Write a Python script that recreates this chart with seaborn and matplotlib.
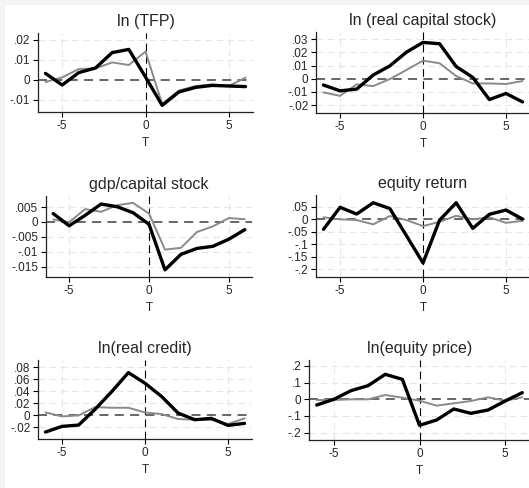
import matplotlib
matplotlib.use("Agg")
import matplotlib.pyplot as plt
import seaborn as sns
import numpy as np
import pandas as pd
from matplotlib.patches import Rectangle

sns.set_theme(style="white")
plt.rcParams['font.family'] = ['Liberation Sans', 'DejaVu Sans']

T = list(range(-6, 7))

titles = ["ln (TFP)", "ln (real capital stock)", "gdp/capital stock",
          "equity return", "ln(real credit)", "ln(equity price)"]

tfp_black = [0.0033, -0.0025, 0.0037, 0.0060, 0.0137, 0.0153, 0.0015, -0.0127, -0.0060, -0.0037, -0.0027, -0.0030, -0.0033]
tfp_gray = [-0.0010, 0.0013, 0.0055, 0.0058, 0.0088, 0.0075, 0.0142, -0.0120, -0.0053, -0.0030, -0.0022, -0.0030, 0.0012]

cap_black = [-0.0048, -0.0092, -0.0079, 0.0028, 0.0097, 0.0201, 0.0275, 0.0265, 0.0092, 0.0010, -0.0158, -0.0112, -0.0176]
cap_gray = [-0.0104, -0.0130, -0.0043, -0.0056, -0.0003, 0.0066, 0.0137, 0.0117, 0.0020, -0.0036, -0.0036, -0.0040, -0.0018]

gdpk_black = [0.0028, -0.0013, 0.0022, 0.0060, 0.0051, 0.0031, -0.0008, -0.0161, -0.0109, -0.0089, -0.0082, -0.0058, -0.0026]
gdpk_gray = [0.0008, -0.0001, 0.0043, 0.0034, 0.0056, 0.0064, 0.0028, -0.0093, -0.0087, -0.0034, -0.0015, 0.0013, 0.0009]

eqr_black = [-0.041, 0.047, 0.020, 0.065, 0.042, -0.066, -0.175, -0.004, 0.065, -0.037, 0.019, 0.036, 0.000]
eqr_gray = [0.007, -0.001, -0.004, -0.021, 0.012, -0.004, -0.028, -0.011, 0.013, -0.001, 0.007, -0.015, -0.007]

cred_black = [-0.0282, -0.0188, -0.0166, 0.0099, 0.0392, 0.0707, 0.0530, 0.0310, 0.0033, -0.0077, -0.0055, -0.0171, -0.0138]
cred_gray = [0.0044, -0.0022, -0.0006, 0.0133, 0.0122, 0.0122, 0.0044, 0.0017, -0.0066, -0.0077, -0.0077, -0.0149, -0.0055]

eqp_black = [-0.034, 0.000, 0.052, 0.082, 0.150, 0.120, -0.156, -0.124, -0.058, -0.084, -0.064, -0.010, 0.040]
eqp_gray = [-0.004, -0.004, 0.000, 0.000, 0.026, 0.010, -0.008, -0.038, -0.024, -0.010, 0.012, -0.008, 0.012]

black_series = [tfp_black, cap_black, gdpk_black, eqr_black, cred_black, eqp_black]
gray_series = [tfp_gray, cap_gray, gdpk_gray, eqr_gray, cred_gray, eqp_gray]

ytick_vals = [
    [-0.01, 0, 0.01, 0.02],
    [-0.02, -0.01, 0, 0.01, 0.02, 0.03],
    [-0.015, -0.01, -0.005, 0, 0.005],
    [-0.2, -0.15, -0.1, -0.05, 0, 0.05],
    [-0.02, 0, 0.02, 0.04, 0.06, 0.08],
    [-0.2, -0.1, 0, 0.1, 0.2],
]
ytick_labels = [
    ["-.01", "0", ".01", ".02"],
    ["-.02", "-.01", "0", ".01", ".02", ".03"],
    ["-.015", "-.01", "-.005", "0", ".005"],
    ["-.2", "-.15", "-.1", "-.05", "0", ".05"],
    ["-.02", "0", ".02", ".04", ".06", ".08"],
    ["-.2", "-.1", "0", ".1", ".2"],
]
ylims = [(-0.016, 0.0235), (-0.026, 0.0354), (-0.0185, 0.0087),
         (-0.231, 0.096), (-0.0398, 0.0917), (-0.244, 0.236)]
xtick_vals = [-5, 0, 5]

W, H = 529, 488
fig = plt.figure(figsize=(W / 100, H / 100), dpi=100)
fig.patch.set_facecolor("#f4f4f4")
bg = fig.add_axes([5 / W, 0, 1 - 5 / W, 1 - 5 / H], zorder=-10)
bg.set_facecolor("white")
bg.set_xticks([])
bg.set_yticks([])
for s in bg.spines.values():
    s.set_visible(False)

# (left, right, top, bottom) in pixels
boxes = [(38, 253, 33, 112), (316, 530, 32, 113),
         (46, 252, 196, 277), (316, 530, 195, 277),
         (38, 252, 360, 439), (309, 530, 360, 440)]

for i, (l, r, t, b) in enumerate(boxes):
    ax = fig.add_axes([l / W, 1 - b / H, (r - l) / W, (b - t) / H])
    ax.set_facecolor("none")
    ax.set_xlim(-6.45, 6.45)
    ax.set_ylim(*ylims[i])
    for yv in ytick_vals[i]:
        if yv != 0:
            ax.axhline(yv, color="#e6e6e6", lw=0.8, ls=(0, (6, 4)), zorder=1)
    for xv in xtick_vals:
        if xv != 0:
            ax.axvline(xv, color="#e6e6e6", lw=0.8, ls=(0, (6, 4)), zorder=1)
    ax.axhline(0, color="#5a5a5a", lw=1.3, ls=(0, (5, 3.5)), zorder=2)
    ax.axvline(0, color="black", lw=0.8, ls=(0, (7, 4)), zorder=2)
    df = pd.DataFrame({"T": T, "black": black_series[i], "gray": gray_series[i]})
    sns.lineplot(data=df, x="T", y="gray", color="#8a8a8a", lw=1.4, ax=ax, zorder=3)
    sns.lineplot(data=df, x="T", y="black", color="black", lw=2.4, ax=ax, zorder=4)
    ax.set_yticks(ytick_vals[i])
    ax.set_yticklabels(ytick_labels[i])
    ax.set_xticks(xtick_vals)
    ax.set_xticklabels([str(v) for v in xtick_vals])
    ax.tick_params(axis="both", which="both", direction="out", length=3.5, width=0.8,
                   color="black", labelsize=8.5, pad=2, left=True, bottom=True)
    for s in ["top", "right"]:
        ax.spines[s].set_visible(False)
    for s in ["left", "bottom"]:
        ax.spines[s].set_color("#222222")
        ax.spines[s].set_linewidth(0.9)
    ax.set_xlabel("T", fontsize=8.5, labelpad=4)
    ax.set_ylabel("")
    ax.set_title(titles[i], fontsize=11.5, pad=5)
    ax.grid(False)

fig.savefig("out.png", dpi=100)
